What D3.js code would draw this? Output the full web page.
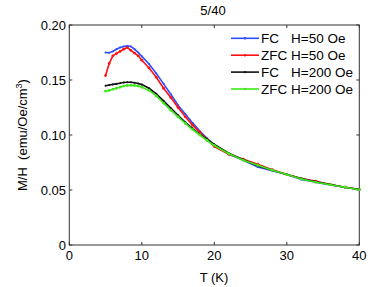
<!DOCTYPE html>
<html>
<head>
<meta charset="utf-8">
<script src="https://cdn.jsdelivr.net/npm/d3@7"></script>
<style>
body { margin: 0; background: #fff; }
text { font-family: "Liberation Sans", Arial, sans-serif; }
</style>
</head>
<body>
<script>
// temperatures (K)
var temps = [5,5.5,6,6.5,7,7.5,8,8.5,9,9.5,10,11,12,13,14,15,16,17,18,19,20,22,24,26,28,30,32,34,36,38,40];

var fc50  = [0.175,0.1748,0.176,0.178,0.1795,0.1805,0.181,0.1805,0.178,0.175,0.1715,0.1645,0.156,0.1465,0.137,0.127,0.119,0.111,0.1035,0.097,0.091,0.0825,0.077,0.071,0.0675,0.064,0.0595,0.057,0.0545,0.0525,0.0505];
var zfc50 = [0.154,0.165,0.172,0.174,0.176,0.178,0.1795,0.177,0.1745,0.172,0.168,0.161,0.1525,0.1425,0.134,0.125,0.1165,0.109,0.1025,0.096,0.0895,0.0825,0.078,0.0735,0.0685,0.064,0.0605,0.058,0.055,0.0525,0.0505];
var fc200 = [0.1448,0.1455,0.146,0.1465,0.147,0.1477,0.148,0.148,0.1475,0.1468,0.1458,0.1425,0.1375,0.131,0.1245,0.118,0.1115,0.106,0.1005,0.096,0.0915,0.0835,0.0775,0.072,0.068,0.064,0.0605,0.0575,0.055,0.0525,0.0505];
var zfc200 = [0.1398,0.1405,0.1415,0.1425,0.1435,0.1445,0.145,0.1452,0.145,0.1445,0.1435,0.1405,0.1355,0.129,0.1225,0.1165,0.1105,0.105,0.1,0.095,0.0905,0.083,0.077,0.0725,0.068,0.064,0.06,0.057,0.0548,0.0525,0.0503];

var xTicks = [0,10,20,30,40];
var yTicks = [0,0.05,0.10,0.15,0.20];
var yTickLabels = ['0','0.05','0.10','0.15','0.20'];

var seriesNames = ['FC', 'ZFC', 'FC', 'ZFC'];
var seriesFields = ['H=50 Oe', 'H=50 Oe', 'H=200 Oe', 'H=200 Oe'];
var seriesColors = ['#2b4cff', '#ff1010', '#111111', '#3ee81a'];
var seriesValues = [fc50, zfc50, fc200, zfc200];

var svg = d3.select('body').append('svg')
    .attr('width', 382)
    .attr('height', 287);

var x = d3.scaleLinear().domain([0, 40]).range([69.3, 359.3]);
var y = d3.scaleLinear().domain([0, 0.20]).range([245, 25]);

// frame
svg.append('rect')
    .attr('x', x(0)).attr('y', y(0.20))
    .attr('width', x(40) - x(0)).attr('height', y(0) - y(0.20))
    .attr('fill', 'none').attr('stroke', '#333').attr('stroke-width', 1);

// ticks, inside, on both sides
xTicks.forEach(function(t) {
    svg.append('line').attr('x1', x(t)).attr('x2', x(t)).attr('y1', y(0)).attr('y2', y(0) - 3).attr('stroke', '#333');
    svg.append('line').attr('x1', x(t)).attr('x2', x(t)).attr('y1', y(0.2)).attr('y2', y(0.2) + 3).attr('stroke', '#333');
    svg.append('text').attr('x', x(t)).attr('y', 260).attr('text-anchor', 'middle')
        .attr('font-size', 13).text(t);
});
yTicks.forEach(function(v, i) {
    svg.append('line').attr('x1', x(0)).attr('x2', x(0) + 3).attr('y1', y(v)).attr('y2', y(v)).attr('stroke', '#333');
    svg.append('line').attr('x1', x(40)).attr('x2', x(40) - 3).attr('y1', y(v)).attr('y2', y(v)).attr('stroke', '#333');
    svg.append('text').attr('x', 66).attr('y', y(v) + 4.5).attr('text-anchor', 'end')
        .attr('font-size', 13).text(yTickLabels[i]);
});

// curves
var line = d3.line()
    .x(function(d) { return x(d[0]); })
    .y(function(d) { return y(d[1]); });

seriesValues.forEach(function(vals, i) {
    var pts = temps.map(function(t, j) { return [t, vals[j]]; });
    svg.append('path').datum(pts)
        .attr('d', line)
        .attr('fill', 'none')
        .attr('stroke', seriesColors[i])
        .attr('stroke-width', 1.6);
    svg.selectAll(null).data(pts).enter().append('circle')
        .attr('cx', function(d) { return x(d[0]); })
        .attr('cy', function(d) { return y(d[1]); })
        .attr('r', i % 2 ? 1.4 : 1.0)
        .attr('fill', seriesColors[i]);
});

// legend
seriesNames.forEach(function(n, i) {
    var ly = 38.3 + i * 16.9;
    svg.append('line').attr('x1', 231).attr('x2', 259).attr('y1', ly).attr('y2', ly)
        .attr('stroke', seriesColors[i]).attr('stroke-width', 1.6);
    svg.append('circle').attr('cx', 245).attr('cy', ly).attr('r', 1.2).attr('fill', seriesColors[i]);
    var t = svg.append('text').attr('y', ly + 4.8).attr('font-size', 13.5);
    t.append('tspan').attr('x', 261).text(n);
    t.append('tspan').attr('x', 291).text(seriesFields[i]);
});

// title and axis labels
svg.append('text').attr('x', 213).attr('y', 14.5).attr('text-anchor', 'middle')
    .attr('font-size', 13).text('5/40');
svg.append('text').attr('x', 214).attr('y', 282).attr('text-anchor', 'middle')
    .attr('font-size', 13).text('T (K)');

var yl = svg.append('text')
    .attr('transform', 'translate(26.5,135) rotate(-90)')
    .attr('text-anchor', 'middle')
    .attr('font-size', 13);
yl.append('tspan').text('M/H\u00a0\u00a0(emu/Oe/cm');
yl.append('tspan').attr('font-size', 9).attr('dy', -5).text('3');
yl.append('tspan').attr('dy', 5).text(')');
</script>
</body>
</html>
